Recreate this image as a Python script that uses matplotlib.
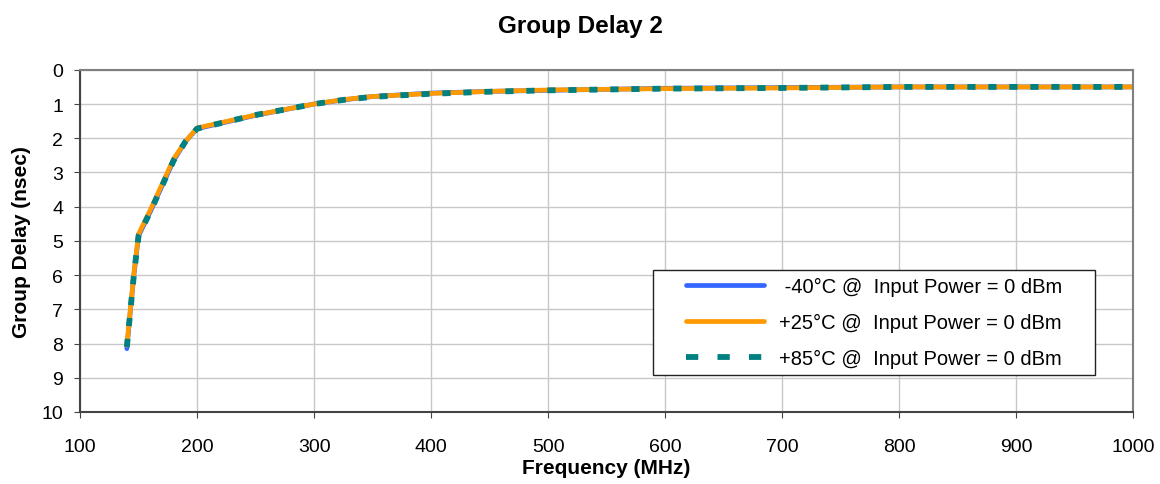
import matplotlib
matplotlib.use("Agg")
import matplotlib.pyplot as plt
from matplotlib.lines import Line2D
from matplotlib.patches import Rectangle

plt.rcParams['font.family'] = ['Liberation Sans', 'DejaVu Sans']

freq = [140, 143, 146, 150, 160, 170, 180, 190, 200, 250, 300, 325, 350, 400, 450, 500, 600, 700, 800, 900, 1000]
gd_m40 = [8.15, 7.05, 6.0, 4.85, 4.15, 3.4, 2.65, 2.1, 1.72, 1.33, 1.0, 0.88, 0.78, 0.68, 0.63, 0.6, 0.54, 0.52, 0.5, 0.5, 0.5]
gd_p25 = [8.05, 7.0, 5.95, 4.8, 4.1, 3.35, 2.6, 2.1, 1.7, 1.32, 1.0, 0.87, 0.78, 0.69, 0.63, 0.59, 0.55, 0.53, 0.5, 0.5, 0.5]
gd_p85 = [8.1, 7.05, 6.0, 4.85, 4.15, 3.4, 2.65, 2.1, 1.72, 1.32, 1.0, 0.88, 0.79, 0.7, 0.64, 0.6, 0.55, 0.53, 0.5, 0.5, 0.5]

labels = [' -40°C @  Input Power = 0 dBm',
          '+25°C @  Input Power = 0 dBm',
          '+85°C @  Input Power = 0 dBm']

c_blue, c_orange, c_teal = '#3366ff', '#ff9900', '#008080'

fig = plt.figure(figsize=(11.6, 4.85), dpi=100)
ax = fig.add_axes([0.069, 0.1485, 0.908, 0.7055])

ax.plot(freq, gd_m40, color=c_blue, lw=3.4, solid_capstyle='round')
ax.plot(freq, gd_p25, color=c_orange, lw=3.4, solid_capstyle='round')
ax.plot(freq, gd_p85, color=c_teal, lw=4.2, ls=(0, (1.4, 2.2)))

ax.set_xlim(100, 1000)
ax.set_ylim(10, 0)
ax.set_xticks(range(100, 1001, 100))
ax.set_yticks(range(0, 11))
ax.grid(True, color='#c8c8c8', lw=1)
ax.set_axisbelow(True)

for s in ['top', 'right']:
    ax.spines[s].set_color('#808080')
    ax.spines[s].set_linewidth(1.5)
for s in ['left', 'bottom']:
    ax.spines[s].set_color('#444444')
    ax.spines[s].set_linewidth(1.5)

ax.tick_params(axis='both', labelsize=14, direction='out', length=4, colors='#444444', labelcolor='black')
ax.tick_params(axis='y', pad=8)
ax.tick_params(axis='x', pad=15)

ax.set_title('Group Delay 2', fontsize=17.5, fontweight='bold', pad=27, x=0.475)
ax.set_xlabel('Frequency (MHz)', fontsize=15, fontweight='bold', labelpad=2)
ax.set_ylabel('Group Delay (nsec)', fontsize=15, fontweight='bold', labelpad=8)

# legend frame
x0, x1 = 0.544, 0.964
y0, y1 = 0.108, 0.415
ax.add_patch(Rectangle((x0, y0), x1 - x0, y1 - y0, transform=ax.transAxes,
                       facecolor='white', edgecolor='#222222', lw=1.0, zorder=5))
handles = [Line2D([], [], color=c_blue, lw=3.4, solid_capstyle='round'),
           Line2D([], [], color=c_orange, lw=3.4, solid_capstyle='round'),
           Line2D([], [], color=c_teal, lw=4.2, ls=(0, (2.1, 3.3)))]
leg = ax.legend(handles, labels, loc='center', bbox_to_anchor=((x0 + x1) / 2, (y0 + y1) / 2),
                fontsize=14.5, frameon=False, handlelength=3.9,
                handletextpad=0.75, borderpad=0.2, labelspacing=0.82)
leg.set_zorder(6)

fig.savefig('out.png', dpi=100)
